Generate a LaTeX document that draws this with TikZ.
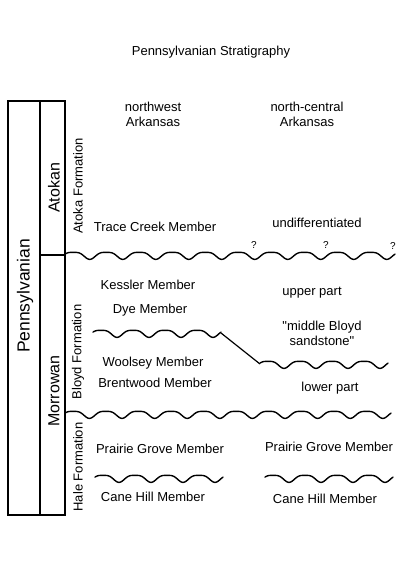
\documentclass[tikz,border=0pt]{standalone}
\usepackage{fontspec}
\setmainfont{Liberation Sans}[Ligatures=TeXOff]
\begin{document}
\begin{tikzpicture}[x=1pt,y=-1pt,
  txt/.style={font=\fontsize{13}{15}\selectfont, align=center, inner sep=0pt},
  era/.style={font=\fontsize{16}{18}\selectfont, inner sep=0pt, rotate=90},
  sys/.style={font=\fontsize{17.5}{20}\selectfont, inner sep=0pt, rotate=90},
  fm/.style={font=\fontsize{13}{15}\selectfont, inner sep=0pt, rotate=90},
  qm/.style={font=\fontsize{10}{11}\selectfont, inner sep=0pt},
  frame/.style={line width=1.1pt},
  wave/.style={line width=1.4pt, line join=round, line cap=round}]
\useasboundingbox (0,0) rectangle (400,561);
\fill[white] (0,0) rectangle (400,561);
% columns
\draw[frame] (8,101) rectangle (40,515);
\draw[frame] (40,101) rectangle (65,515);
\draw[frame] (40,255) -- (65,255);
% column labels
\node[sys] (penn) at (25,296) {Pennsylvanian};
\node[era] (atokan) at (54,188) {Atokan};
\node[era] (morrowan) at (54,391) {Morrowan};
\node[fm] (atokafm) at (78,186) {Atoka Formation};
\node[fm] (bloydfm) at (78,352) {Bloyd Formation};
\node[fm] (halefm) at (78,467) {Hale Formation};
% title and headers
\node[txt] (title) at (211,52) {Pennsylvanian Stratigraphy};
\node[txt] (nw) at (153,114) {northwest\\Arkansas};
\node[txt] (nc) at (307,114) {north-central\\Arkansas};
% members
\node[txt] (trace) at (155,227) {Trace Creek Member};
\node[txt] (undiff) at (317,223) {undifferentiated};
\node[txt] (kessler) at (148,285) {Kessler Member};
\node[txt] (dye) at (150,310) {Dye Member};
\node[txt] (upper) at (312,293) {upper part};
\node[txt] (middle) at (322,333) {"middle Bloyd\\sandstone"};
\node[txt] (woolsey) at (153,363) {Woolsey Member};
\node[txt] (brentwood) at (155,383) {Brentwood Member};
\node[txt] (lower) at (330,388) {lower part};
\node[txt] (pgl) at (160,449) {Prairie Grove Member};
\node[txt] (pgr) at (329,447) {Prairie Grove Member};
\node[txt] (chl) at (153,497) {Cane Hill Member};
\node[txt] (chr) at (325,499) {Cane Hill Member};
% question marks
\node[qm] (q1) at (254,245) {?};
\node[qm] (q2) at (326,245) {?};
\node[qm] (q3) at (393,246) {?};
% unconformities
\draw[wave] plot[variable=\t, domain=0:330, samples=331] ({65+\t}, {255 - 3.5*(sin(\t/33*360) + 0.25*cos(\t/33*720))});
\draw[wave] plot[variable=\t, domain=0:128, samples=129] ({93+\t}, {333 - 3.5*(sin(\t/32*360) + 0.25*cos(\t/32*720))});
\coordinate (dA) at (221,333);
\coordinate (dB) at (260,364);
\draw[line width=1.2pt] (dA) -- (dB);
\draw[wave] plot[variable=\t, domain=0:128, samples=129] ({260+\t}, {364 - 3.5*(sin(\t/32*360) + 0.25*cos(\t/32*720))});
\draw[wave] plot[variable=\t, domain=0:326, samples=327] ({65+\t}, {414 - 3.5*(sin(\t/32.6*360) + 0.25*cos(\t/32.6*720))});
\draw[wave] plot[variable=\t, domain=0:128, samples=129] ({95+\t}, {478 - 3.5*(sin(\t/32*360) + 0.25*cos(\t/32*720))});
\draw[wave] plot[variable=\t, domain=0:128, samples=129] ({265+\t}, {478 - 3.5*(sin(\t/32*360) + 0.25*cos(\t/32*720))});
\end{tikzpicture}
\end{document}
